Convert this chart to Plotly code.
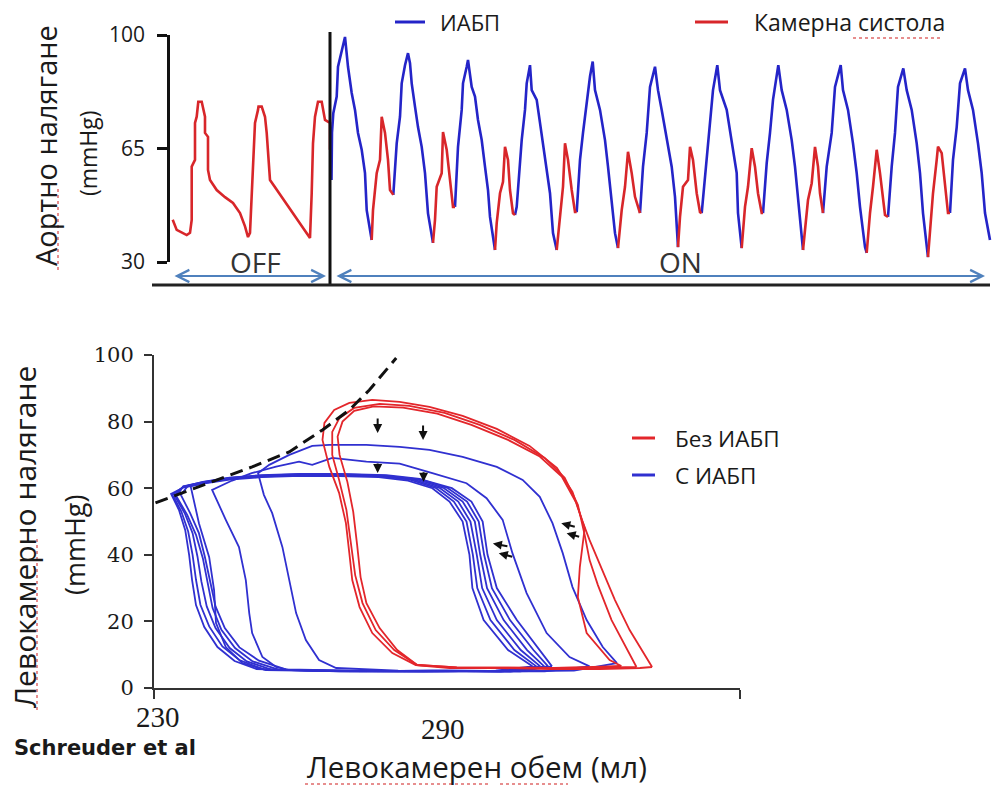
import plotly.graph_objects as go

# ---------------- Aortic pressure (top panel) ----------------
# time in samples, pressure in mmHg
off_t = [2.7, 6.7, 16.7, 20, 21.7, 21.7, 25, 25, 26.7, 28.3, 31.7, 33.3, 35, 35, 38, 38, 40,
         46.7, 55, 63, 70, 75, 78, 80, 81.7, 83, 85, 88, 88.5, 91.7, 95, 96.7, 98, 100,
         104, 112, 120, 128, 134, 140, 141.7, 143, 145, 148, 151.7, 155, 160, 160]
off_p = [43.0, 39.9, 38.3, 39.0, 43.0, 59.4, 61.5, 72.9, 74.8, 79.4, 79.4, 76.9, 74.8, 69.8, 68.6, 58.4, 55.3,
         52.2, 50.0, 48.2, 45.1, 41.0, 37.7, 39.0, 51.2, 63.6, 72.9, 76.9, 77.9, 77.9, 74.8, 69.8, 63.6, 55.3,
         53.5, 50.0, 46.5, 43.0, 40.0, 37.4, 51.2, 66.6, 74.8, 79.4, 79.4, 73.8, 72.9, 64.6]

# IABP-assisted beats (blue segments)
iabp_t = [
    [161.5, 162, 163.3, 166.7, 168, 171.7, 175, 178, 181.7, 185, 188, 191.7, 195, 196.7, 200, 201.7],
    [223.3, 226.7, 230, 231.7, 235, 238, 240, 241.7, 245, 248, 251.7, 255, 258, 261.7, 263],
    [285, 288, 291.7, 293, 296.7, 298, 301.7, 305, 308, 311.7, 315, 318, 320, 323, 325],
    [345, 346.7, 351.7, 355, 356.7, 360, 361.7, 366.7, 370, 373, 376.7, 380, 383, 386.7],
    [406.7, 410, 413, 416.7, 420, 422.7, 425, 430, 435, 438, 441.7, 445, 448],
    [470, 473, 476.7, 480, 485, 488, 491.7, 496.7, 501.7, 505, 506.7, 508],
    [531.7, 536.7, 540, 543, 547.3, 550, 556.7, 561.7, 566.7, 568, 571.7],
    [593, 596.7, 600, 603, 608.3, 611.7, 616.7, 621.7, 625, 628, 631.7, 633],
    [653, 656.7, 661.7, 665, 670.7, 673, 678, 683, 686.7, 690, 695, 696.7],
    [718, 721.7, 725, 728, 733.3, 736.7, 741.7, 746.7, 750, 753, 758],
    [780, 783, 786.7, 790, 795, 798, 803, 808, 811.7, 815, 820],
]
iabp_p = [
    [55.3, 70, 75.9, 81, 90.2, 95.4, 99.4, 90.2, 82.1, 76.9, 69.8, 64.6, 57.4, 46, 39.9, 36.8],
    [50.7, 66.6, 74.8, 85.1, 90.7, 94.4, 91.3, 85.1, 77.9, 71.6, 65.5, 57.4, 45, 38.9, 35.9],
    [47, 65.5, 76.9, 85.1, 90.2, 92.3, 84, 81, 73.8, 67.6, 59.4, 52.2, 43.9, 36.8, 33.7],
    [44.5, 47, 67.6, 76.9, 85.1, 90.7, 83, 80, 72.9, 66.6, 59.4, 51.2, 38.9, 33.7],
    [45.4, 61.5, 69.8, 80, 87.2, 91.8, 83, 76.9, 67.6, 59.4, 49.1, 38.9, 34.3],
    [45.1, 59.4, 69.8, 84, 90.2, 83, 76.9, 67.6, 59.4, 50.1, 38.9, 34.6],
    [45.1, 61.5, 70.7, 83, 90.7, 83, 76.9, 66.6, 57.4, 45.1, 34.3],
    [45.1, 60.5, 69.8, 80, 90.7, 83, 76.9, 67.6, 59.4, 49.1, 36.8, 33.7],
    [45.1, 59.4, 69.8, 84, 90.7, 83, 76.9, 66.6, 57.4, 47, 34.6, 32.8],
    [43.9, 59.4, 69.8, 84, 89.7, 83, 76.9, 66.6, 57.4, 45.1, 31.5],
    [45.1, 61.5, 71.6, 85.1, 89.7, 83, 76.9, 66.6, 57.4, 45.1, 36.8],
]

# ventricular systole during IABP support (red segments)
sys_t = [
    [201.7, 203, 206.7, 210, 211.7, 215, 218, 220, 223.3],
    [263, 265, 266.7, 271.7, 273, 276.7, 280, 283, 285],
    [325, 326.7, 330, 333, 335, 338, 340, 343, 345],
    [386.7, 390, 393, 395, 398, 401.7, 405, 406.7],
    [448, 451.7, 455, 458, 461.7, 465, 470],
    [508, 510, 513, 518, 520, 523, 526.7, 530, 531.7],
    [571.7, 575, 578, 581.7, 585, 588, 591.7, 593],
    [633, 638, 641.7, 645, 648, 650, 653],
    [696.7, 700, 703, 706.7, 710, 713, 715, 718],
    [758, 760, 763, 766.7, 768, 771.7, 775, 778, 780],
]
sys_p = [
    [36.8, 46, 57.4, 61.5, 74.8, 69.8, 61.5, 52.2, 50.7],
    [35.9, 43, 53.2, 57.4, 70.1, 64.6, 55.3, 47, 47],
    [33.7, 42, 51.2, 54.7, 65.5, 61.5, 52.2, 45, 44.5],
    [33.7, 45, 53.2, 66.6, 61.5, 52.2, 45.4, 45.4],
    [34.3, 46, 53.2, 64, 57.4, 50.1, 45.1],
    [34.6, 43.9, 53.2, 55.3, 65.5, 61.5, 51.2, 45.4, 45.1],
    [34.3, 47, 53.2, 65.1, 59.4, 51.2, 45.1, 45.1],
    [33.7, 49.1, 54.3, 65.5, 59.4, 51.2, 45.1],
    [32.8, 45.1, 53.2, 64.6, 57.4, 50.1, 44.5, 43.9],
    [31.5, 38.9, 51.2, 61.5, 65.6, 63.6, 53.2, 45.1, 45.1],
]

balloon_on_t = 160
aortic_ticks = [30, 65, 100]

# ---------------- LV pressure-volume loops (bottom panel) ----------------
# without IABP (red)
loops_off_v = [
    [332.0, 330.5, 327.4, 324.4, 321.3, 319.2, 317.8, 315.7, 312.5, 306.9, 300.2, 293.2, 286.4, 280.3, 274.7,
     270.0, 266.9, 264.9, 264.5, 265.9, 267.9, 269.3, 270.0, 270.6, 272.1, 274.7, 278.8, 283.6, 290.5, 300.8,
     311.0, 321.3, 329.5, 332.0],
    [328.8, 327.0, 323.7, 320.9, 319.2, 318.2, 316.8, 314.1, 310.0, 303.8, 296.7, 289.5, 282.3, 276.2, 271.0,
     268.0, 266.5, 266.5, 267.9, 269.4, 270.4, 271.2, 272.7, 275.4, 279.2, 283.9, 292.0, 302.0, 312.0, 322.0,
     328.8],
    [325.7, 323.3, 318.6, 316.8, 317.2, 318.2, 316.5, 313.5, 309.0, 302.5, 295.0, 288.0, 281.0, 275.0, 271.0,
     268.6, 267.6, 268.0, 269.6, 270.8, 271.6, 272.3, 273.5, 276.2, 279.8, 283.9, 292.0, 302.0, 312.0, 320.0,
     325.7],
]
loops_off_p = [
    [6.3, 9.9, 17.4, 26.4, 36.9, 44.4, 49.8, 58.9, 66.1, 72.7, 77.8, 81.7, 84.4, 85.9, 86.5,
     85.6, 83.5, 79.6, 74.5, 66.4, 58.6, 49.5, 40.5, 32.4, 24.3, 16.5, 10.5, 6.9, 6.0, 6.0,
     5.7, 5.7, 6.0, 6.3],
    [6.3, 11.4, 20.4, 30.9, 38.4, 45.9, 55.0, 63.1, 69.1, 74.5, 79.0, 82.6, 84.7, 85.3, 84.1,
     81.1, 76.9, 70.0, 62.5, 53.5, 42.9, 33.9, 25.5, 17.4, 11.4, 6.9, 6.2, 6.0, 6.0, 6.1,
     6.3],
    [6.6, 8.4, 16.5, 27.3, 36.3, 48.0, 55.5, 63.5, 69.5, 74.5, 79.0, 82.4, 84.2, 84.6, 83.2,
     80.0, 75.5, 70.0, 61.9, 52.9, 42.9, 33.3, 25.5, 18.0, 11.4, 6.9, 6.2, 6.0, 6.0, 6.3,
     6.6],
]

# with IABP (blue)
loops_on_v = [
    [324.8, 321.9, 318.6, 315.7, 313.7, 311.6, 309.0, 305.5, 300.2, 293.2, 286.4, 280.3, 273.5, 265.9, 262.4,
     257.7, 253.6, 251.3, 252.5, 254.2, 256.3, 257.7, 259.1, 261.1, 263.8, 267.3, 280.0, 300.0, 316.0, 324.8],
    [319.2, 315.1, 310.4, 306.3, 303.4, 301.4, 298.1, 294.0, 287.0, 280.3, 273.5, 266.5, 262.4, 259.7, 255.0,
     250.0, 246.0, 241.9, 244.7, 247.4, 248.8, 249.5, 250.1, 252.2, 255.0, 257.7, 275.0, 295.0, 310.0, 319.2],
    [311.5, 309.0, 304.3, 300.2, 298.3, 297.3, 295.0, 291.0, 285.0, 278.0, 268, 260, 252, 245.5, 240.5,
     237.5, 239.2, 241.3, 242.3, 242.7, 244.7, 248.1, 252.9, 270, 290, 305, 311.5],
    [307.5, 302.5, 297.5, 295.2, 294.6, 293.2, 290.5, 287.0, 282.0, 276.0, 268, 260, 252, 245.5, 240,
     236, 233.5, 235.1, 236.4, 237.2, 237.8, 238.6, 240.3, 243.0, 246.5, 251.0, 265, 285, 300, 307.5],
    [308.3, 303.8, 298.9, 296.2, 295.3, 294.0, 291.4, 287.8, 282.6, 276.4, 268, 260, 252, 245.5, 240,
     236, 233.8, 235.6, 237.0, 237.9, 238.6, 239.5, 241.3, 244.0, 247.6, 252.5, 268, 287, 301, 308.3],
    [309.1, 305.1, 300.2, 297.2, 296.1, 294.8, 292.3, 288.6, 283.2, 276.8, 268, 260, 252, 245.5, 240,
     236, 234.2, 236.3, 237.9, 238.9, 239.7, 240.8, 242.6, 245.5, 249.0, 254.0, 270, 288, 302, 309.1],
    [309.9, 306.4, 301.6, 298.2, 296.8, 295.7, 293.2, 289.4, 283.8, 277.2, 268, 260, 252, 245.5, 240,
     236, 234.6, 236.8, 238.6, 240.0, 241.0, 242.0, 243.8, 246.6, 250.2, 255.5, 272, 289, 303, 309.9],
    [310.7, 307.7, 302.9, 299.2, 297.6, 296.5, 294.1, 290.2, 284.4, 277.6, 268, 260, 252, 245.5, 240,
     237, 235.5, 237.4, 239.2, 240.4, 241.5, 242.6, 244.5, 247.5, 251.5, 257.0, 274, 290, 304, 310.7],
]
loops_on_p = [
    [7.5, 12.3, 20.4, 30.3, 40.5, 49.5, 57.4, 62.5, 66.4, 69.4, 71.5, 72.4, 73.0, 73.0, 72.7,
     70.0, 67.0, 64.5, 58.0, 52.5, 42.3, 32.4, 22.5, 14.4, 8.4, 6.0, 5.2, 5.0, 5.2, 7.5],
    [6.5, 9.3, 16.5, 28.5, 40.5, 50.5, 57.0, 61.5, 64.5, 67.4, 68.0, 69.1, 67.0, 68.0, 66.5,
     64.5, 62.3, 59.5, 50.5, 42.3, 32.4, 22.5, 16.5, 9.3, 6.3, 5.4, 5.0, 5.1, 5.0, 6.5],
    [6.5, 11.4, 20.4, 30, 40, 50, 56, 60, 62.5, 63.5, 63.9, 63.9, 63.5, 62.8, 61.6,
     60.6, 49.5, 39.3, 29.4, 19.5, 12.3, 7.5, 5.4, 5.0, 5.3, 5.0, 6.5],
    [6.5, 11.4, 20.4, 30, 40, 50, 56, 60, 62.3, 63.3, 63.6, 63.7, 63.3, 62.6, 61.4,
     60.2, 58.3, 53.5, 47.4, 39.9, 32.4, 24.9, 18.3, 12.3, 8.1, 5.7, 5.1, 4.9, 5.2, 6.5],
    [6.5, 11.4, 20.4, 30, 40, 50, 56, 60, 62.5, 63.6, 64.0, 64.0, 63.6, 62.9, 61.6,
     60.4, 58.0, 53, 47, 40, 32.5, 25, 18.5, 12.5, 8.3, 5.6, 5.0, 5.2, 4.9, 6.5],
    [6.5, 11.4, 20.4, 30, 40, 50, 56, 60, 62.6, 63.7, 64.1, 64.1, 63.7, 63.0, 61.7,
     60.5, 57.8, 52.5, 46.5, 39.5, 32, 24.5, 18, 12, 8, 5.5, 5.1, 5.0, 5.2, 6.5],
    [6.5, 11.4, 20.4, 30, 40, 50, 56, 60, 62.7, 63.8, 64.2, 64.2, 63.8, 63.1, 61.8,
     60.6, 57.5, 52, 46, 39, 31.5, 24, 17.5, 12, 8, 5.5, 5.0, 5.1, 4.9, 6.5],
    [6.5, 11.4, 20.4, 30, 40, 50, 56, 60, 62.8, 63.9, 64.3, 64.3, 63.9, 63.2, 61.9,
     60.8, 58.0, 52.5, 46.5, 39.5, 32, 24.5, 18, 12.2, 8.2, 5.6, 5.1, 5.0, 5.2, 6.5],
]

# end-systolic pressure-volume relation (dashed)
espvr_v = [230.3, 239.2, 250.1, 257.7, 264.5, 270.0, 274.1, 279.6]
espvr_p = [55.6, 60.4, 66.4, 70.9, 77.5, 83.5, 89.5, 99.1]

pv_yticks = [0, 20, 40, 60, 80, 100]
pv_xticks = [230, 290, 350]

RED = "#d8262a"
BLUE = "#2424c8"
RED_PV = "#e3262b"
BLUE_PV = "#3030d0"
W, H = 992, 786


def px(x):
    return x / W


def py(y):
    return 1 - y / H


def join_segments(ts, ps):
    xs, ys = [], []
    for t, p in zip(ts, ps):
        xs += t + [None]
        ys += p + [None]
    return xs, ys


fig = go.Figure()

# top panel
fig.add_trace(go.Scatter(x=off_t, y=off_p, mode="lines", line=dict(color=RED, width=2.6),
                         xaxis="x", yaxis="y", hoverinfo="skip"))
bx, by = join_segments(iabp_t, iabp_p)
fig.add_trace(go.Scatter(x=bx, y=by, mode="lines", line=dict(color=BLUE, width=2.6),
                         xaxis="x", yaxis="y", name="ИАБП", hoverinfo="skip"))
rx, ry = join_segments(sys_t, sys_p)
fig.add_trace(go.Scatter(x=rx, y=ry, mode="lines", line=dict(color=RED, width=2.6),
                         xaxis="x", yaxis="y", name="Камерна систола", hoverinfo="skip"))

# bottom panel
for v, p in zip(loops_on_v, loops_on_p):
    fig.add_trace(go.Scatter(x=v, y=p, mode="lines", line=dict(color=BLUE_PV, width=1.8),
                             xaxis="x2", yaxis="y2", hoverinfo="skip"))
for v, p in zip(loops_off_v, loops_off_p):
    fig.add_trace(go.Scatter(x=v, y=p, mode="lines", line=dict(color=RED_PV, width=1.8),
                             xaxis="x2", yaxis="y2", hoverinfo="skip"))
fig.add_trace(go.Scatter(x=espvr_v, y=espvr_p, mode="lines",
                         line=dict(color="#111111", width=3, dash="13px,7px"),
                         xaxis="x2", yaxis="y2", hoverinfo="skip"))

TXT = "#1a1a1a"
SANS = "Open Sans"
annotations = [
    # top legend
    dict(x=px(438), y=py(22), text="ИАБП", xanchor="left", font=dict(family=SANS, size=22, color=TXT)),
    dict(x=px(752), y=py(22), text="Камерна систола", xanchor="left", font=dict(family=SANS, size=23, color=TXT)),
    # axis titles
    dict(x=px(45), y=py(146), text="Аортно налягане", textangle=-90, font=dict(family=SANS, size=29, color=TXT)),
    dict(x=px(88), y=py(153), text="(mmHg)", textangle=-90, font=dict(family=SANS, size=23, color=TXT)),
    dict(x=px(24), y=py(537), text="Левокамерно налягане", textangle=-90, font=dict(family=SANS, size=30, color=TXT)),
    dict(x=px(74), y=py(545), text="(mmHg)", textangle=-90, font=dict(family=SANS, size=27, color=TXT)),
    dict(x=px(477), y=py(766), text="Левокамерен обем (мл)", font=dict(family=SANS, size=29.5, color=TXT)),
    dict(x=px(12), y=py(748), text="<b>Schreuder et al</b>", xanchor="left",
         font=dict(family="DejaVu Sans", size=21, color=TXT)),
    # OFF / ON phases
    dict(x=px(255), y=py(262), text="OFF", font=dict(family=SANS, size=28, color="#333333")),
    dict(x=px(680), y=py(262), text="ON", font=dict(family=SANS, size=28, color="#333333")),
    # bottom legend
    dict(x=px(673), y=py(438), text="Без ИАБП", xanchor="left", font=dict(family=SANS, size=22.5, color=TXT)),
    dict(x=px(673), y=py(475), text="С ИАБП", xanchor="left", font=dict(family=SANS, size=22.5, color=TXT)),
]
for a in annotations:
    a.setdefault("xanchor", "center")
    a.update(xref="paper", yref="paper", yanchor="middle", showarrow=False)

# volume tick labels
xlab_y = {230: 717, 290: 729, 350: 716}
xlab_x = {230: 230.8, 290: 289.1, 350: 350.2}
for v in pv_xticks:
    annotations.append(dict(x=xlab_x[v], y=py(xlab_y[v]), xref="x2", yref="paper", text=str(v),
                            xanchor="center", yanchor="middle", showarrow=False,
                            font=dict(family="Liberation Serif", size=29, color=TXT)))

# OFF / ON span arrows
ARROW_BLUE = "#4f81bd"
for x0, x1 in [(173, 326), (335, 985)]:
    annotations.append(dict(x=px(x1), y=py(276), xref="paper", yref="paper", ax=-(x1 - x0), ay=0,
                            text="", showarrow=True, arrowside="end+start", arrowhead=5, startarrowhead=5,
                            arrowsize=1.2, startarrowsize=1.2, arrowwidth=2, arrowcolor=ARROW_BLUE))

# small arrows on the PV loops: (volume, pressure, dx px, dy px)
pv_arrows = [(275.8, 76.6, 0, -16), (285.1, 74.5, 0, -16), (275.8, 64.6, 0, -11), (285.2, 61.9, 0, -11),
             (299.4, 43.4, 16, 3), (300.6, 40.5, 15, 4), (313.4, 49.5, 15, 4), (314.5, 46.5, 14, 4)]
for v, p, dx, dy in pv_arrows:
    annotations.append(dict(x=v, y=p, xref="x2", yref="y2", ax=dx, ay=dy, text="", showarrow=True,
                            arrowhead=2, arrowsize=0.9, arrowwidth=2, arrowcolor="#111111"))

shapes = [
    # legend keys
    dict(type="line", xref="paper", yref="paper", x0=px(395), x1=px(425), y0=py(22), y1=py(22),
         line=dict(color=BLUE, width=3)),
    dict(type="line", xref="paper", yref="paper", x0=px(695), x1=px(728), y0=py(22), y1=py(22),
         line=dict(color=RED, width=3)),
    dict(type="line", xref="paper", yref="paper", x0=px(632), x1=px(655), y0=py(438), y1=py(438),
         line=dict(color=RED_PV, width=3)),
    dict(type="line", xref="paper", yref="paper", x0=px(632), x1=px(655), y0=py(475), y1=py(475),
         line=dict(color=BLUE_PV, width=3)),
    # balloon switched on
    dict(type="line", xref="x", yref="paper", x0=balloon_on_t, x1=balloon_on_t, y0=py(285), y1=py(32),
         line=dict(color="#111111", width=3)),
    # baseline of the top panel
    dict(type="line", xref="paper", yref="paper", x0=px(152), x1=px(990), y0=py(285), y1=py(285),
         line=dict(color="#222222", width=3)),
]

# proofing underlines beneath some words
SQUIGGLE = "#e06a6a"
for x0, y0, x1, y1 in [(853, 38, 940, 38), (58, 270, 58, 186), (37, 710, 37, 538),
                       (305, 784, 490, 784), (500, 784, 568, 784)]:
    shapes.append(dict(type="line", xref="paper", yref="paper", x0=px(x0), x1=px(x1), y0=py(y0), y1=py(y1),
                       line=dict(color=SQUIGGLE, width=1.5, dash="dot")))

fig.update_layout(
    template="none",
    width=W, height=H, margin=dict(l=0, r=0, t=0, b=0, pad=0), autosize=False,
    paper_bgcolor="white", plot_bgcolor="rgba(0,0,0,0)", showlegend=False,
    xaxis=dict(domain=[px(170), 1.0], range=[0, 822], visible=False, anchor="y", automargin=False),
    yaxis=dict(domain=[py(262), py(35)], range=[30, 100], anchor="x", tickvals=aortic_ticks,
               ticks="outside", ticklen=10, tickwidth=2.5, tickcolor="#111111", automargin=False,
               showline=True, linewidth=2.5, linecolor="#111111", showgrid=False, zeroline=False,
               tickfont=dict(family=SANS, size=21, color=TXT), ticklabelstandoff=8),
    xaxis2=dict(domain=[px(154), px(740)], range=[230, 350], anchor="y2", tickvals=[230, 350],
                ticks="outside", ticklen=9, tickwidth=2, tickcolor="#333333", showticklabels=False,
                automargin=False,
                showline=True, linewidth=2, linecolor="#333333", showgrid=False, zeroline=False),
    yaxis2=dict(domain=[py(688), py(355)], range=[0, 100], anchor="x2", tickvals=pv_yticks,
                ticks="outside", ticklen=8, tickwidth=2, tickcolor="#333333", automargin=False,
                showline=True, linewidth=2, linecolor="#333333", showgrid=False, zeroline=False,
                tickfont=dict(family="DejaVu Serif", size=21, color=TXT), ticklabelstandoff=6),
    annotations=annotations, shapes=shapes,
)

fig.write_html("out.html")
